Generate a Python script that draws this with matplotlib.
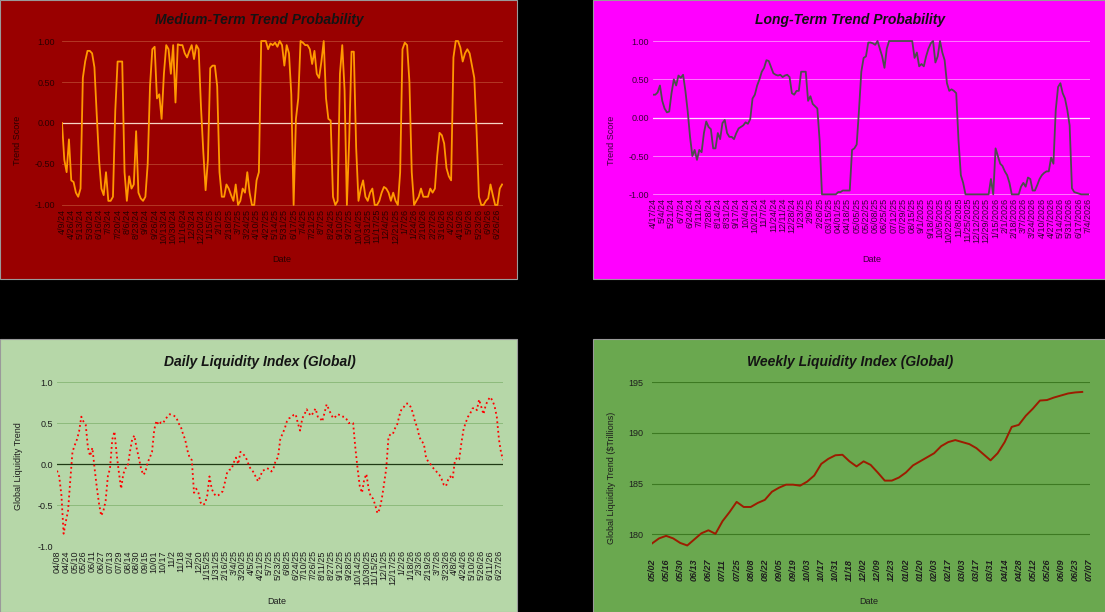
import numpy as np
import matplotlib.pyplot as plt
from matplotlib.patches import Rectangle

plt.rcParams["font.family"] = ["Liberation Sans", "DejaVu Sans"]

# ---- data ----

# medium-term trend score, 4 readings per tick step
medium_labels = [
    "4/9/24", "4/26/24", "5/13/24", "5/30/24", "6/16/24", "7/3/24", "7/20/24", "8/6/24",
    "8/23/24", "9/9/24", "9/26/24", "10/13/24", "10/30/24", "11/16/24", "12/3/24", "12/20/24",
    "1/15/25", "2/1/25", "2/18/25", "3/7/25", "3/24/25", "4/10/25", "4/27/25", "5/14/25",
    "5/31/25", "6/17/25", "7/4/25", "7/21/25", "8/7/25", "8/24/25", "9/10/25", "9/27/25",
    "10/14/25", "10/31/25", "11/17/25", "12/4/25", "12/21/25", "1/7/26", "1/24/26", "2/10/26",
    "2/27/26", "3/16/26", "4/2/26", "4/19/26", "5/6/26", "5/23/26", "6/9/26", "6/26/26",
]
medium_score = [
    0.0, -0.45, -0.6, -0.2, -0.7, -0.72, -0.85, -0.9, -0.8, 0.55,
    0.75, 0.88, 0.88, 0.85, 0.68, 0.1, -0.45, -0.8, -0.88, -0.6,
    -0.95, -0.95, -0.9, 0.15, 0.75, 0.75, 0.75, -0.6, -0.95, -0.65,
    -0.8, -0.75, -0.1, -0.85, -0.92, -0.95, -0.9, -0.5, 0.45, 0.9,
    0.93, 0.3, 0.35, 0.05, 0.6, 0.95, 0.9, 0.6, 0.95, 0.25,
    0.96, 0.95, 0.95, 0.85, 0.8, 0.88, 0.95, 0.78, 0.95, 0.9,
    0.2, -0.35, -0.82, -0.45, 0.67, 0.7, 0.7, 0.45, -0.6, -0.9,
    -0.9, -0.75, -0.8, -0.88, -0.95, -0.75, -1.0, -0.95, -0.8, -0.85,
    -0.6, -0.85, -1.0, -1.0, -0.7, -0.6, 1.0, 1.0, 1.0, 0.9,
    0.97, 0.95, 0.98, 0.93, 1.0, 0.95, 0.7, 0.95, 0.85, 0.35,
    -1.0, 0.05, 0.3, 1.0, 0.98, 0.95, 0.95, 0.9, 0.72, 0.88,
    0.6, 0.55, 0.75, 1.0, 0.3, 0.05, 0.03, -0.9, -1.0, -0.95,
    0.6, 0.95, 0.4, -1.0, -0.2, 0.87, 0.87, -0.3, -0.95, -0.8,
    -0.7, -0.9, -0.95, -0.85, -0.8, -1.0, -1.0, -0.95, -0.85, -0.78,
    -0.8, -0.85, -0.95, -0.85, -0.95, -1.0, -0.6, 0.9, 0.98, 0.95,
    0.5, -0.6, -1.0, -0.95, -0.9, -0.8, -0.9, -0.9, -0.9, -0.8,
    -0.85, -0.8, -0.4, -0.12, -0.15, -0.25, -0.55, -0.65, -0.7, 0.8,
    1.0, 1.0, 0.92, 0.75, 0.85, 0.9, 0.85, 0.7, 0.55, -0.1,
    -0.9, -1.0, -1.0, -0.95, -0.92, -0.75, -0.88, -1.0, -1.0, -0.8,
    -0.75,
]

# long-term trend score, 4 readings per tick step
long_labels = [
    "4/17/24", "5/4/24", "5/21/24", "6/7/24", "6/24/24", "7/11/24", "7/28/24", "8/14/24",
    "8/31/24", "9/17/24", "10/4/24", "10/21/24", "11/7/24", "11/24/24", "12/11/24", "12/28/24",
    "1/23/25", "2/9/25", "2/26/25", "03/15/25", "04/01/25", "04/18/25", "05/05/25", "05/22/25",
    "06/08/25", "06/25/25", "07/12/25", "07/29/25", "08/15/25", "9/1/2025", "9/18/2025", "10/5/2025",
    "10/22/2025", "11/8/2025", "11/25/2025", "12/12/2025", "12/29/2025", "1/15/2026", "2/1/2026",
    "2/18/2026", "3/7/2026", "3/24/2026", "4/10/2026", "4/27/2026", "5/14/2026", "5/31/2026",
    "6/17/2026", "7/4/2026",
]
long_score = [
    0.3, 0.3, 0.33, 0.42, 0.22, 0.12, 0.07, 0.08, 0.32, 0.5,
    0.42, 0.55, 0.52, 0.56, 0.35, 0.08, -0.25, -0.5, -0.42, -0.55,
    -0.42, -0.45, -0.2, -0.05, -0.12, -0.15, -0.4, -0.4, -0.2, -0.28,
    -0.07, -0.03, -0.2, -0.25, -0.25, -0.28, -0.2, -0.14, -0.12, -0.1,
    -0.06, -0.08, -0.02, 0.25, 0.3, 0.42, 0.5, 0.6, 0.65, 0.75,
    0.74, 0.66, 0.58, 0.56, 0.55, 0.56, 0.53, 0.55, 0.56, 0.53,
    0.32, 0.3, 0.35, 0.35, 0.6, 0.6, 0.6, 0.22, 0.28, 0.18,
    0.15, 0.12, -0.3, -1.0, -1.0, -1.0, -1.0, -1.0, -1.0, -1.0,
    -0.97, -0.97, -0.95, -0.95, -0.95, -0.95, -0.42, -0.4, -0.35, 0.1,
    0.6, 0.78, 0.8, 0.98, 0.98, 0.97, 0.95, 1.0, 0.9, 0.8,
    0.65, 0.9, 1.0, 1.0, 1.0, 1.0, 1.0, 1.0, 1.0, 1.0,
    1.0, 1.0, 1.0, 0.78, 0.85, 0.67, 0.7, 0.67, 0.8, 0.9,
    0.97, 1.0, 0.72, 0.8, 1.0, 0.85, 0.75, 0.45, 0.35, 0.37,
    0.35, 0.32, -0.3, -0.75, -0.85, -1.0, -1.0, -1.0, -1.0, -1.0,
    -1.0, -1.0, -1.0, -1.0, -1.0, -1.0, -0.8, -1.0, -0.4, -0.5,
    -0.6, -0.63, -0.7, -0.75, -0.85, -1.0, -1.0, -1.0, -1.0, -0.9,
    -0.85, -0.9, -0.78, -0.8, -0.95, -0.95, -0.88, -0.8, -0.75, -0.72,
    -0.7, -0.7, -0.52, -0.6, 0.1, 0.4, 0.45, 0.32, 0.25, 0.1,
    -0.1, -0.92, -0.97, -0.98, -0.99, -1.0, -1.0, -1.0, -1.0,
]

# daily global liquidity trend, 4 readings per tick step
daily_labels = [
    "04/08", "04/24", "05/10", "05/26", "06/11", "06/27", "07/13", "07/29", "08/14", "08/30",
    "09/15", "10/01", "10/17", "11/2", "11/18", "12/4", "12/20", "1/15/25", "1/31/25", "2/16/25",
    "3/4/25", "3/20/25", "4/5/25", "4/21/25", "5/7/25", "5/23/25", "6/8/25", "6/24/25", "7/10/25",
    "7/26/25", "8/11/25", "8/27/25", "9/12/25", "9/28/25", "10/14/25", "10/30/25", "11/15/25",
    "12/1/25", "12/17/25", "1/2/26", "1/18/26", "2/3/26", "2/19/26", "3/7/26", "3/23/26",
    "4/8/26", "4/24/26", "5/10/26", "5/26/26", "6/11/26", "6/27/26",
]
daily_liquidity = [
    -0.08, -0.15, -0.38, -0.85, -0.7, -0.57, -0.2, 0.15, 0.23, 0.3,
    0.4, 0.58, 0.52, 0.48, 0.2, 0.1, 0.2, -0.05, -0.28, -0.48,
    -0.63, -0.57, -0.45, -0.15, -0.05, 0.3, 0.4, 0.12, -0.1, -0.3,
    -0.12, -0.05, -0.03, 0.15, 0.3, 0.35, 0.2, 0.08, -0.05, -0.13,
    -0.1, 0.02, 0.08, 0.15, 0.42, 0.53, 0.48, 0.51, 0.5, 0.55,
    0.58, 0.61, 0.6, 0.59, 0.57, 0.5, 0.46, 0.37, 0.3, 0.17,
    0.08, 0.05, -0.35, -0.3, -0.35, -0.47, -0.5, -0.48, -0.38, -0.15,
    -0.3, -0.36, -0.39, -0.38, -0.36, -0.33, -0.22, -0.1, -0.07, -0.06,
    0.02, 0.08, 0.0, 0.15, 0.13, 0.1, 0.05, -0.03, -0.07, -0.1,
    -0.16, -0.21, -0.15, -0.08, -0.07, -0.05, -0.06, -0.09, -0.05, 0.05,
    0.08, 0.3, 0.37, 0.43, 0.52, 0.56, 0.57, 0.6, 0.61, 0.5,
    0.41, 0.56, 0.61, 0.67, 0.62, 0.59, 0.63, 0.68, 0.58, 0.57,
    0.52, 0.62, 0.73, 0.67, 0.61, 0.56, 0.58, 0.61, 0.6, 0.58,
    0.58, 0.55, 0.5, 0.51, 0.5, 0.2, -0.05, -0.27, -0.35, -0.19,
    -0.12, -0.3, -0.4, -0.42, -0.5, -0.6, -0.55, -0.42, -0.24, -0.05,
    0.33, 0.37, 0.37, 0.44, 0.49, 0.6, 0.68, 0.7, 0.74, 0.74,
    0.7, 0.63, 0.52, 0.45, 0.33, 0.28, 0.25, 0.08, 0.03, 0.0,
    -0.04, -0.07, -0.1, -0.13, -0.18, -0.25, -0.27, -0.19, -0.15, -0.18,
    0.03, 0.08, 0.06, 0.26, 0.43, 0.51, 0.58, 0.62, 0.68, 0.69,
    0.66, 0.79, 0.7, 0.61, 0.72, 0.78, 0.82, 0.78, 0.71, 0.58,
    0.3, 0.13, 0.05,
]

# weekly global liquidity ($ trillions), one value per week, labels every 2 weeks
weekly_labels = [
    "05/02", "05/16", "05/30", "06/13", "06/27", "07/11", "07/25", "08/08", "08/22", "09/05",
    "09/19", "10/03", "10/17", "10/31", "11/18", "12/02", "12/09", "12/23", "01/02", "01/20",
    "02/03", "02/17", "03/03", "03/17", "03/31", "04/14", "04/28", "05/12", "05/26", "06/09",
    "06/23", "07/07",
]
weekly_liquidity = [
    179.1, 179.6, 179.85, 179.6, 179.15, 178.9, 179.5, 180.1, 180.4, 180.05,
    181.3, 182.2, 183.2, 182.7, 182.7, 183.1, 183.4, 184.2, 184.6, 184.9,
    184.9, 184.8, 185.2, 185.8, 186.95, 187.45, 187.8, 187.85, 187.2, 186.7,
    187.2, 186.85, 186.1, 185.3, 185.3, 185.6, 186.1, 186.8, 187.2, 187.6,
    188.0, 188.7, 189.1, 189.3, 189.1, 188.9, 188.5, 187.9, 187.3, 188.0,
    189.1, 190.6, 190.8, 191.7, 192.4, 193.2, 193.25, 193.5, 193.7, 193.9,
    194.0, 194.05,
]

# ---- layout (pixel boxes, origin top-left) ----
W, H = 1105, 612
fig = plt.figure(figsize=(W / 100, H / 100), dpi=100, facecolor="black")


def fx(x):
    return x / W


def fy(y):
    return 1 - y / H


def box(x0, y0, x1, y1):
    return [fx(x0), fy(y1), (x1 - x0) / W, (y1 - y0) / H]


def panel(x0, y0, x1, y1, color):
    fig.add_artist(Rectangle((fx(x0), fy(y1)), (x1 - x0) / W, (y1 - y0) / H,
                             transform=fig.transFigure, facecolor=color,
                             edgecolor="#9a9a9a", linewidth=0.8, zorder=0))


def chart(rect, title, title_xy, ylabel, ylabel_xy, date_xy, txt):
    ax = fig.add_axes(rect)
    ax.set_facecolor("none")
    for s in ax.spines.values():
        s.set_visible(False)
    ax.tick_params(length=0, labelsize=6.5, colors=txt)
    fig.text(fx(title_xy[0]), fy(title_xy[1]), title, ha="center", va="center",
             fontsize=10, fontweight="bold", fontstyle="italic", color="#141414")
    fig.text(fx(ylabel_xy[0]), fy(ylabel_xy[1]), ylabel, ha="center", va="center",
             rotation=90, fontsize=6.5, color=txt)
    fig.text(fx(date_xy[0]), fy(date_xy[1]), "Date", ha="center", va="center",
             fontsize=6.5, color=txt)
    return ax


panel(0, 0, 517, 279, "#990000")
panel(593, 0, 1105, 279, "#ff00ff")
panel(0, 339, 517, 612, "#b6d7a8")
panel(593, 339, 1105, 612, "#6aa84f")

# medium-term trend probability
ax = chart(box(62, 39.4, 503, 206.6), "Medium-Term Trend Probability", (259, 20),
           "Trend Score", (18, 140), (282, 260), "#2a0000")
x = np.arange(len(medium_score)) / 4
for v in [1.0, 0.5, -0.5, -1.0]:
    ax.axhline(v, color="#b8402a", lw=0.6, zorder=1)
ax.axhline(0, color="#f6d4c4", lw=0.9, zorder=1)
ax.plot(x, medium_score, color="#ff9900", lw=1.3, zorder=2)
ax.set_xlim(0, 47.6)
ax.set_ylim(-1.02, 1.02)
ax.set_yticks([1.0, 0.5, 0.0, -0.5, -1.0])
ax.set_yticklabels(["1.00", "0.50", "0.00", "-0.50", "-1.00"])
ax.set_xticks(range(len(medium_labels)))
ax.set_xticklabels(medium_labels, rotation=90)
ax.tick_params(axis="y", pad=5)
ax.tick_params(axis="x", pad=1.5)

# long-term trend probability
ax = chart(box(653, 39.5, 1090, 195.9), "Long-Term Trend Probability", (850, 20),
           "Trend Score", (611, 140), (872, 260), "#3a003a")
x = np.arange(len(long_score)) / 4
for v in [1.0, 0.5, -0.5, -1.0]:
    ax.axhline(v, color="#ff8cff", lw=0.6, zorder=1)
ax.axhline(0, color="#ffd6ff", lw=0.9, zorder=1)
ax.plot(x, long_score, color="#4d4d4d", lw=1.3, zorder=2)
ax.set_xlim(0, 47.2)
ax.set_ylim(-1.02, 1.02)
ax.set_yticks([1.0, 0.5, 0.0, -0.5, -1.0])
ax.set_yticklabels(["1.00", "0.50", "0.00", "-0.50", "-1.00"])
ax.set_xticks(range(len(long_labels)))
ax.set_xticklabels(long_labels, rotation=90)
ax.tick_params(axis="y", pad=3)
ax.tick_params(axis="x", pad=1.5)

# daily liquidity index
ax = chart(box(57, 382.3, 503.4, 546), "Daily Liquidity Index (Global)", (260, 362),
           "Global Liquidity Trend", (19, 466), (277, 602), "#1e1e1e")
x = np.arange(len(daily_liquidity)) / 4
for v in [1.0, 0.5, -0.5, -1.0]:
    ax.axhline(v, color="#8dbb7c", lw=0.7, zorder=1)
ax.axhline(0, color="#1f3a14", lw=0.9, zorder=1)
ax.plot(x, daily_liquidity, color="#ff0000", lw=1.3, ls=":", zorder=2)
ax.set_xlim(0, 50.5)
ax.set_ylim(-1.0, 1.0)
ax.set_yticks([1.0, 0.5, 0.0, -0.5, -1.0])
ax.set_yticklabels(["1.0", "0.5", "0.0", "-0.5", "-1.0"])
ax.set_xticks(range(len(daily_labels)))
ax.set_xticklabels(daily_labels, rotation=90)
ax.tick_params(axis="y", pad=3)
ax.tick_params(axis="x", pad=3)

# weekly liquidity index
ax = chart(box(652, 382.3, 1090, 554.6), "Weekly Liquidity Index (Global)", (850, 362),
           "Global Liquidity Trend ($Trillions)", (612, 478), (869, 602), "#1e1e1e")
x = np.arange(len(weekly_liquidity))
for v in [180, 185, 190, 195]:
    ax.axhline(v, color="#3d7a22", lw=0.8, zorder=1)
ax.plot(x, weekly_liquidity, color="#9c1c00", lw=1.4, zorder=2)
ax.set_xlim(0, 62.1)
ax.set_ylim(178, 195)
ax.set_yticks([180, 185, 190, 195])
ax.set_xticks(np.arange(len(weekly_labels)) * 2)
ax.set_xticklabels(weekly_labels, rotation=90, fontweight="bold", fontstyle="italic")
ax.tick_params(axis="y", pad=6)
ax.tick_params(axis="x", pad=3)

fig.savefig("out.png", dpi=100, facecolor="black")
